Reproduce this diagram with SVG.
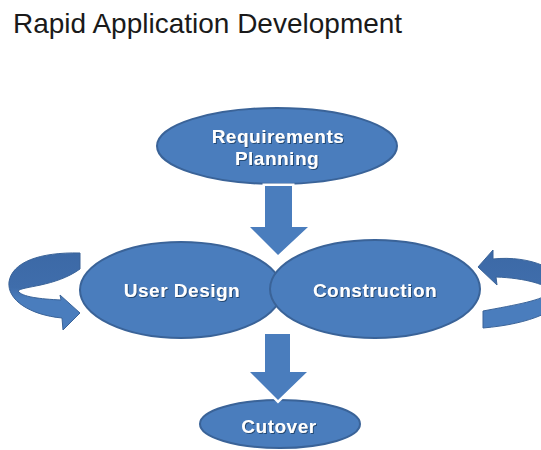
<svg xmlns="http://www.w3.org/2000/svg" width="541" height="450" viewBox="0 0 541 450">
  <defs>
    <filter id="shadow" x="-10%" y="-20%" width="120%" height="150%">
      <feDropShadow dx="1" dy="1" stdDeviation="0.6" flood-color="#1f3b60" flood-opacity="0.8"/>
    </filter>
    <linearGradient id="loopGrad" x1="0" y1="0" x2="0" y2="1">
      <stop offset="0" stop-color="#3c69a6"/>
      <stop offset="0.45" stop-color="#3f6dab"/>
      <stop offset="0.6" stop-color="#4a7dbd"/>
      <stop offset="1" stop-color="#4a7dbd"/>
    </linearGradient>
  </defs>
  <style>
    .title { font-family: "Liberation Sans", Arial, sans-serif; font-size: 28px; fill: #1a1a1a; }
    .node { fill: #4a7dbd; stroke: #3a6398; stroke-width: 2; }
    .label { font-family: "Liberation Sans", Arial, sans-serif; font-weight: bold; font-size: 19px; letter-spacing: 0.5px; fill: #ffffff; text-anchor: middle; filter: url(#shadow); }
    .arrow { fill: #4a7dbd; stroke: #ffffff; stroke-width: 5; paint-order: stroke; stroke-linejoin: miter; }
    .arrow-edge { fill: none; stroke: #3a6398; stroke-width: 1; }
    .loop { fill: url(#loopGrad); stroke: #3a6398; stroke-width: 1; }
  </style>

  <rect width="541" height="450" fill="#ffffff"/>

  <text class="title" x="13" y="33">Rapid Application Development</text>

  <g id="node-requirements">
    <ellipse class="node" cx="277" cy="146" rx="120" ry="38"/>
    <text class="label" x="278" y="143">Requirements</text>
    <text class="label" x="277" y="165">Planning</text>
  </g>

  <g id="node-userdesign">
    <ellipse class="node" cx="181" cy="290" rx="101" ry="48"/>
    <text class="label" x="182" y="297">User Design</text>
  </g>

  <g id="node-construction">
    <ellipse class="node" cx="375" cy="289" rx="105" ry="49"/>
    <text class="label" x="375" y="297">Construction</text>
  </g>

  <g id="node-cutover">
    <ellipse class="node" cx="280" cy="424" rx="80" ry="24"/>
    <text class="label" x="279" y="433">Cutover</text>
  </g>

  <g id="connectors">
    <!-- Requirements -> middle -->
    <path class="arrow" d="M265 186 L292 186 L292 227 L308 227 L278 255 L250 227 L265 227 Z"/>
    <!-- middle -> Cutover -->
    <path class="arrow" d="M265 334 L290 334 L290 372 L307 372 L278 400 L250 372 L265 372 Z"/>
    <!-- User Design loop (left) -->
    <path class="loop" d="M80 253 C40 252 12 262 9 282 C7 300 30 315 62 318 L63 330 L80 313 L60 295 L61 300 C40 299 22 297 18 291 C22 286 55 287 80 269 Z"/>
    <!-- Construction loop (right) -->
    <path class="loop" d="M478 267 L493 250 L493 259 C530 255 565 270 565 290 C565 310 530 324 483 328 L483 311 C515 305 545 300 550 292 C550 285 525 278 496 277 L497 285 Z"/>
  </g>
</svg>
